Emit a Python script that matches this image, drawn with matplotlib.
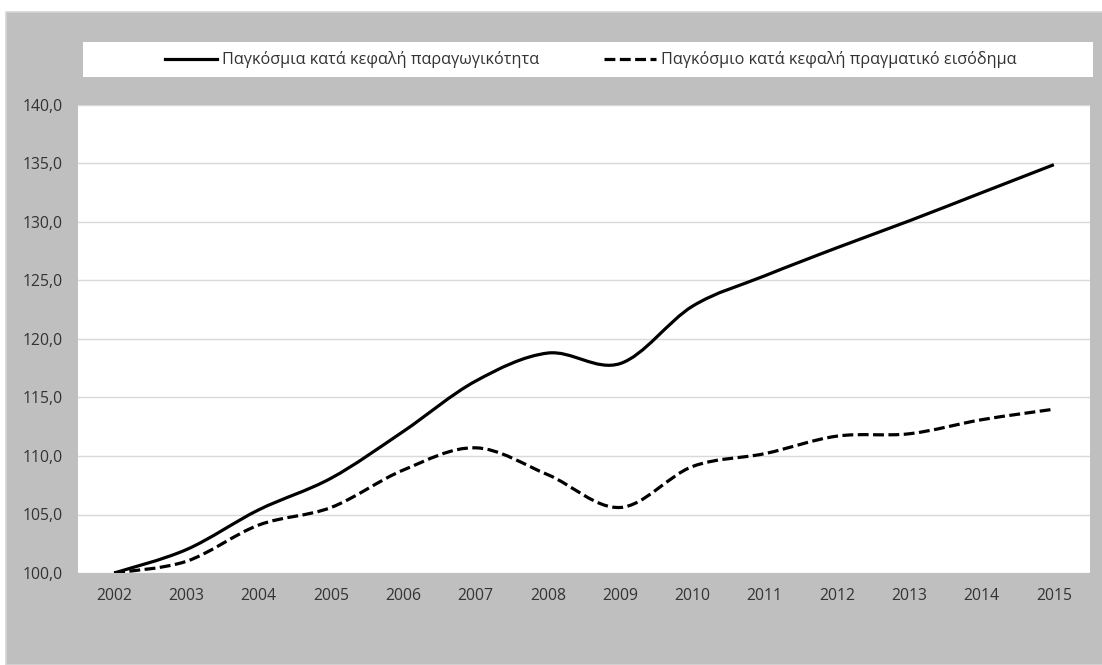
import numpy as np
import matplotlib.pyplot as plt
from matplotlib.path import Path
from matplotlib.patches import PathPatch, Rectangle
from matplotlib.lines import Line2D

plt.rcParams['font.family'] = ['Open Sans', 'DejaVu Sans']

# data
years = ['2002', '2003', '2004', '2005', '2006', '2007', '2008',
         '2009', '2010', '2011', '2012', '2013', '2014', '2015']
productivity = [100.0, 102.0, 105.4, 108.1, 112.1, 116.4, 118.8,
                117.9, 122.8, 125.4, 127.8, 130.1, 132.5, 134.9]
income = [100.0, 101.0, 104.1, 105.6, 108.8, 110.7, 108.4,
          105.6, 109.1, 110.2, 111.7, 111.9, 113.1, 114.0]
label_prod = 'Παγκόσμια κατά κεφαλή παραγωγικότητα'
label_inc = 'Παγκόσμιο κατά κεφαλή πραγματικό εισόδημα'

GRAY = '#bfbfbf'
TXT = '#333333'


def smooth_path(x, y):
    # excel-like smoothed line: bezier segments through the data points
    x = np.asarray(x, float)
    y = np.asarray(y, float)
    n = len(x)
    verts = [(x[0], y[0])]
    codes = [Path.MOVETO]
    for i in range(n - 1):
        i0 = max(i - 1, 0)
        i3 = min(i + 2, n - 1)
        c1 = (x[i] + (x[i + 1] - x[i0]) / 6, y[i] + (y[i + 1] - y[i0]) / 6)
        c2 = (x[i + 1] - (x[i3] - x[i]) / 6, y[i + 1] - (y[i3] - y[i]) / 6)
        verts += [c1, c2, (x[i + 1], y[i + 1])]
        codes += [Path.CURVE4] * 3
    return Path(verts, codes)


fig = plt.figure(figsize=(11.02, 6.65), dpi=100, facecolor='white')
fig.patches.append(Rectangle((6 / 1102, 0), 1, 653 / 665, transform=fig.transFigure,
                             facecolor=GRAY, edgecolor='#d4d4d4', lw=1.2, zorder=0))
# legend strip
fig.patches.append(Rectangle((83 / 1102, 1 - 77 / 665), 1010 / 1102, 35 / 665,
                             transform=fig.transFigure, facecolor='white',
                             edgecolor='none', zorder=1))

ax = fig.add_axes([78 / 1102, 1 - 573 / 665, 1012 / 1102, 468 / 665])
ax.set_zorder(2)
ax.set_facecolor('white')
xs = np.arange(len(years))

for vals, ls in [(productivity, '-'), (income, '--')]:
    patch = PathPatch(smooth_path(xs, vals), facecolor='none', edgecolor='black',
                      lw=2.3, capstyle='butt', zorder=3)
    if ls == '--':
        patch.set_linestyle((0, (3.4, 1.4)))
    ax.add_patch(patch)

ax.set_xlim(-0.5, len(years) - 0.5)
ax.set_ylim(100, 140)
ax.set_yticks(np.arange(100, 141, 5))
ax.set_yticklabels([f'{v:.1f}'.replace('.', ',') for v in np.arange(100, 141, 5)])
ax.set_xticks(xs)
ax.set_xticklabels(years)
ax.tick_params(length=0, labelsize=11.3, labelcolor=TXT)
ax.tick_params(axis='y', pad=11)
ax.tick_params(axis='x', pad=11)
ax.grid(axis='y', color='#d9d9d9', lw=1)
ax.set_axisbelow(True)
for s in ax.spines.values():
    s.set_visible(False)

handles = [Line2D([], [], color='black', lw=2.3),
           Line2D([], [], color='black', lw=2.3, ls=(0, (3.4, 1.4)))]
leg = fig.legend(handles, [label_prod, label_inc], loc='center',
                 bbox_to_anchor=(591 / 1102, 1 - 60 / 665), ncol=2, frameon=False,
                 fontsize=11.7, handlelength=3.2, handletextpad=0.3, columnspacing=4.0,
                 labelcolor=TXT)
leg.set_zorder(3)

fig.savefig('out.png', dpi=100, facecolor=fig.get_facecolor())
